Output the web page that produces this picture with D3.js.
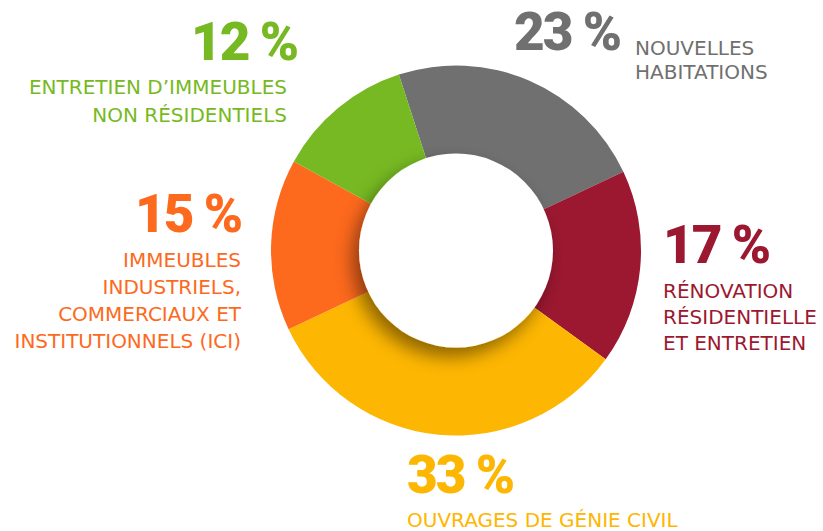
<!DOCTYPE html>
<html>
<head>
<meta charset="utf-8">
<script src="https://cdn.jsdelivr.net/npm/d3@7"></script>
<style>
	html, body { margin: 0; padding: 0; background: #fff; }
	svg { display: block; }
</style>
</head>
<body>
<svg id="chart" width="823" height="531"></svg>
<script>
// @ Data
const categories = [
	"NOUVELLES HABITATIONS",
	"RÉNOVATION RÉSIDENTIELLE ET ENTRETIEN",
	"OUVRAGES DE GÉNIE CIVIL",
	"IMMEUBLES INDUSTRIELS, COMMERCIAUX ET INSTITUTIONNELS (ICI)",
	"ENTRETIEN D’IMMEUBLES NON RÉSIDENTIELS",
];
const values = [23, 17, 33, 15, 12];
const colors = ["#6f706f", "#9c1830", "#fdb601", "#fd691d", "#77b922"];
const labelLines = [
	["NOUVELLES", "HABITATIONS"],
	["RÉNOVATION", "RÉSIDENTIELLE", "ET ENTRETIEN"],
	["OUVRAGES DE GÉNIE CIVIL"],
	["IMMEUBLES", "INDUSTRIELS,", "COMMERCIAUX ET", "INSTITUTIONNELS (ICI)"],
	["ENTRETIEN D’IMMEUBLES", "NON RÉSIDENTIELS"],
];

// @ Layout of the annotations (number baseline + label block)
const annot = [
	{ anchor: "start", nx: 514, ny: 50, lx: 635, ly: 55, dy: 24 },
	{ anchor: "start", nx: 663, ny: 263, lx: 663, ly: 298, dy: 26 },
	{ anchor: "start", nx: 407, ny: 493, lx: 407, ly: 527, dy: 26 },
	{ anchor: "end", nx: 241, ny: 232, lx: 241, ly: 267, dy: 27 },
	{ anchor: "end", nx: 297, ny: 60, lx: 287, ly: 94, dy: 28 },
];

const cx = 456;
const cy = 250.5;
const outerR = 185;
const innerR = 97;

const svg = d3.select("#chart");

// shadow under the white hole
const defs = svg.append("defs");
const filter = defs
	.append("filter")
	.attr("id", "holeShadow")
	.attr("x", "-50%")
	.attr("y", "-50%")
	.attr("width", "200%")
	.attr("height", "200%");
filter
	.append("feDropShadow")
	.attr("dx", -6)
	.attr("dy", 9)
	.attr("stdDeviation", 9)
	.attr("flood-color", "#000")
	.attr("flood-opacity", 0.45);

const pie = d3
	.pie()
	.sort(null)
	.value((d) => d)
	.startAngle((-18 * Math.PI) / 180)
	.endAngle((-18 * Math.PI) / 180 + 2 * Math.PI);

const arc = d3.arc().innerRadius(innerR - 4).outerRadius(outerR);

const ring = svg.append("g").attr("transform", `translate(${cx}, ${cy})`);

ring
	.selectAll("path")
	.data(pie(values))
	.enter()
	.append("path")
	.attr("d", arc)
	.attr("fill", (d, i) => colors[i]);

ring
	.append("circle")
	.attr("r", innerR)
	.attr("fill", "#fff")
	.style("filter", "url(#holeShadow)");

// @ Annotations
const groups = svg
	.selectAll("g.annot")
	.data(values)
	.enter()
	.append("g")
	.attr("class", "annot")
	.attr("fill", (d, i) => colors[i])
	.attr("text-anchor", (d, i) => annot[i].anchor);

groups
	.append("text")
	.attr("x", (d, i) => annot[i].nx)
	.attr("y", (d, i) => annot[i].ny)
	.style("font-family", "Roboto, 'Noto Sans', sans-serif")
	.style("font-weight", 900)
	.style("font-size", "53px")
	.style("letter-spacing", "-2px")
	.text((d) => `${d} %`);

groups
	.selectAll("text.lbl")
	.data((d, i) => labelLines[i].map((t, j) => ({ t, j, a: annot[i] })))
	.enter()
	.append("text")
	.attr("class", "lbl")
	.attr("x", (d) => d.a.lx)
	.attr("y", (d) => d.a.ly + d.j * d.a.dy)
	.style("font-family", "'DejaVu Sans', sans-serif")
	.style("font-size", "20px")
	.text((d) => d.t);
</script>
</body>
</html>
